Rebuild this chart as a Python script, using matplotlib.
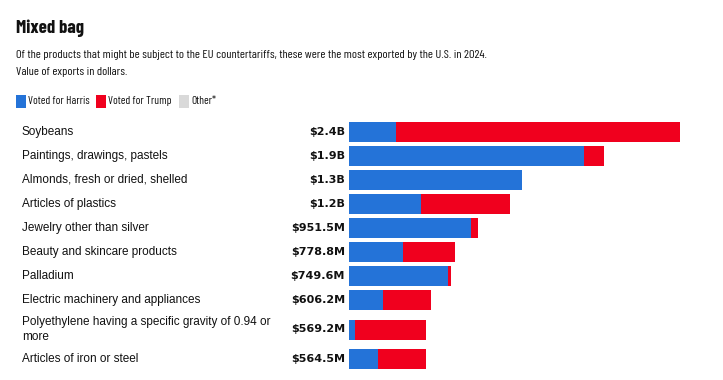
import matplotlib
matplotlib.use("Agg")
import matplotlib.pyplot as plt
from matplotlib.patches import Rectangle
from matplotlib import font_manager

# Data (millions of dollars)
products = ['Soybeans', 'Paintings, drawings, pastels', 'Almonds, fresh or dried, shelled',
            'Articles of plastics', 'Jewelry other than silver', 'Beauty and skincare products',
            'Palladium', 'Electric machinery and appliances',
            'Polyethylene having a specific gravity of 0.94 or\nmore', 'Articles of iron or steel']
value_labels = ['$2.4B', '$1.9B', '$1.3B', '$1.2B', '$951.5M', '$778.8M',
                '$749.6M', '$606.2M', '$569.2M', '$564.5M']
harris = [347, 1733, 1276, 531, 897, 398, 728, 253, 47, 214]
trump = [2094, 147, 0, 656, 54, 383, 24, 352, 522, 354]
other = [0, 0, 0, 0, 0, 0, 0, 0, 0, 0]

BLUE = '#2473D8'
RED = '#F0001E'
GREY = '#D9D9D9'

installed = set(f.name for f in font_manager.fontManager.ttflist)


def pick(*names):
    for n in names:
        if n in installed:
            return n
    return 'DejaVu Sans'


COND = pick('Barlow Condensed', 'Fira Sans Extra Condensed', 'Roboto Condensed')
BODY = pick('Liberation Sans', 'Arimo')
BOLD = pick('DejaVu Sans')

W, H = 723, 380
fig = plt.figure(figsize=(W / 100, H / 100), dpi=100)


def fx(x):
    return x / W


def fy(y):
    return 1 - y / H


# Title and subtitle
fig.text(fx(16), fy(33), 'Mixed bag', fontsize=13.5, fontweight='bold', color='#111111',
         va='baseline', family=COND)
fig.text(fx(16), fy(58), 'Of the products that might be subject to the EU countertariffs, '
         'these were the most exported by the U.S. in 2024.', fontsize=8.9, color='#111111',
         va='baseline', family=COND)
fig.text(fx(16), fy(75), 'Value of exports in dollars.', fontsize=8.9, color='#111111',
         va='baseline', family=COND)

# Legend
legend_items = [('Voted for Harris', BLUE, 16), ('Voted for Trump', RED, 96), ('Other*', GREY, 179)]
for name, col, x0 in legend_items:
    fig.add_artist(Rectangle((fx(x0), fy(108)), 10 / W, 13 / H, transform=fig.transFigure,
                             facecolor=col, edgecolor='none'))
    fig.text(fx(x0 + 12), fy(101.5), name, fontsize=8.2, color='#111111', va='center', family=COND)

# Row layout: taller rows for two-line labels
heights = [24 if '\n' not in p else 35 for p in products]
centers = []
y = 132
for i, h in enumerate(heights):
    if i > 0:
        y += (heights[i - 1] + h) / 2
    centers.append(y)

# Bar axes: x in millions, 0.1356 px per million
bar_left = 349
scale = 0.1356
ax = fig.add_axes([fx(bar_left), 0, fx(W - bar_left), 1])
ax.set_xlim(0, (W - bar_left) / scale)
ax.set_ylim(H, 0)
ax.axis('off')

left = [0] * len(products)
for vals, col in [(harris, BLUE), (trump, RED), (other, GREY)]:
    ax.barh(centers, vals, left=left, height=20, color=col, linewidth=0)
    left = [a + b for a, b in zip(left, vals)]

for p, v, c in zip(products, value_labels, centers):
    fig.text(fx(22), fy(c), p, fontsize=8.5, color='#111111', va='center', linespacing=1.3,
             family=BODY)
    fig.text(fx(345), fy(c), v, fontsize=8, fontweight='bold', color='#111111',
             va='center', ha='right', family=BOLD)

fig.savefig('out.png', dpi=100)
